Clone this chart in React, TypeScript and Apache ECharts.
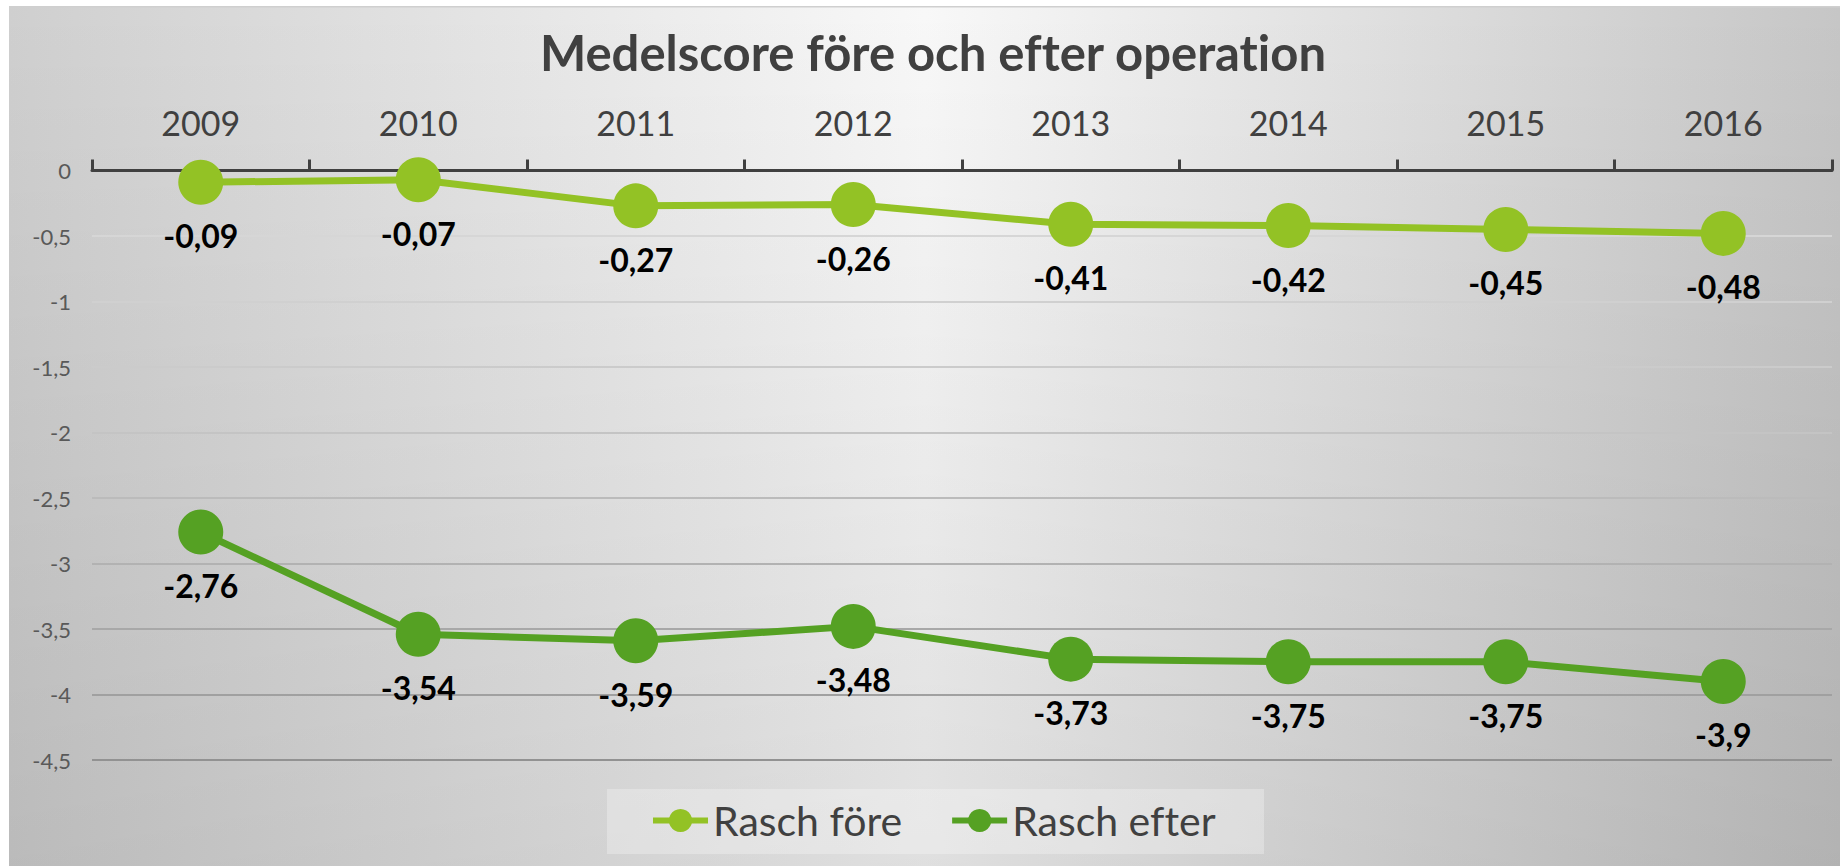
import React, { useEffect, useRef } from "react";
import * as echarts from "echarts";

const years = ["2009", "2010", "2011", "2012", "2013", "2014", "2015", "2016"];
const raschFore = [-0.09, -0.07, -0.27, -0.26, -0.41, -0.42, -0.45, -0.48];
const raschEfter = [-2.76, -3.54, -3.59, -3.48, -3.73, -3.75, -3.75, -3.9];
const titleText = "Medelscore före och efter operation";
const seriesNames = ["Rasch före", "Rasch efter"];

const FONT = "Lato, 'Open Sans', sans-serif";
const comma = (v: number) => String(v).replace(".", ",");

export default function App() {
  const ref = useRef<HTMLDivElement>(null);
  useEffect(() => {
    if (!ref.current) return;
    const chart = echarts.init(ref.current, undefined, { renderer: "svg" });
    const W = 1831;
    const H = 860;
    const labelStyle = {
      show: true,
      position: "bottom" as const,
      distance: 15,
      fontFamily: FONT,
      fontWeight: "bold" as const,
      fontSize: 32,
      color: "#000",
      formatter: (p: any) => comma(p.value),
    };
    chart.setOption({
      animation: false,
      backgroundColor: "transparent",
      graphic: [
        {
          type: "rect",
          z: -20,
          silent: true,
          shape: { x: 0, y: 0, width: W, height: H },
          style: {
            fill: new echarts.graphic.LinearGradient(0, 0, 1, 0, [
              { offset: 0, color: "#cfcfcf" },
              { offset: 0.5, color: "#f8f8f8" },
              { offset: 1, color: "#c6c6c6" },
            ]),
          },
        },
        {
          type: "rect",
          z: -19,
          silent: true,
          shape: { x: 0, y: 0, width: W, height: H },
          style: {
            fill: new echarts.graphic.LinearGradient(0, 0, 0, 1, [
              { offset: 0, color: "rgba(0,0,0,0)" },
              { offset: 1, color: "rgba(0,0,0,0.1)" },
            ]),
          },
        },
        {
          type: "rect",
          z: -18,
          silent: true,
          shape: { x: 0, y: 0, width: W, height: 1.5 },
          style: { fill: "#cfcfcf" },
        },
        {
          type: "rect",
          z: -17,
          silent: true,
          shape: { x: 598, y: 783, width: 657, height: 65 },
          style: { fill: "rgba(255,255,255,0.28)" },
        },
      ],
      title: {
        text: titleText,
        left: 924,
        top: 21,
        textAlign: "center",
        padding: 0,
        textStyle: {
          fontFamily: FONT,
          fontWeight: "bold",
          fontSize: 49,
          color: "#404040",
        },
      },
      legend: {
        data: seriesNames,
        left: 641,
        top: 794,
        padding: 0,
        itemWidth: 55,
        itemHeight: 29,
        itemGap: 47,
        lineStyle: { width: 6 },
        textStyle: {
          fontFamily: FONT,
          fontSize: 41,
          color: "#404040",
          lineHeight: 41,
        },
      },
      grid: { left: 83, right: 8, top: 164.5, bottom: 106, containLabel: false },
      xAxis: {
        type: "category",
        position: "top",
        data: years,
        boundaryGap: true,
        axisLine: { show: true, lineStyle: { color: "#404040", width: 3 } },
        axisTick: {
          show: true,
          interval: 0,
          length: 11,
          lineStyle: { color: "#404040", width: 3 },
        },
        axisLabel: {
          margin: 31,
          fontFamily: FONT,
          fontSize: 34,
          color: "#404040",
        },
        splitLine: { show: false },
      },
      yAxis: {
        type: "value",
        min: -4.5,
        max: 0,
        interval: 0.5,
        axisLine: { show: false },
        axisTick: { show: false },
        axisLabel: {
          margin: 21,
          fontFamily: FONT,
          fontSize: 22,
          color: "#595959",
          formatter: (v: number) => comma(v),
        },
        splitLine: {
          show: true,
          lineStyle: {
            width: 2,
            color: [
              "#929292",
              "#a0a0a0",
              "#a8a8a8",
              "#b2b2b2",
              "#bbbbbb",
              "#c4c4c4",
              "#cbcbcb",
              "#d0d0d0",
              "#d6d6d6",
              "#d6d6d6",
            ],
          },
        },
      },
      series: [
        {
          name: seriesNames[0],
          type: "line",
          data: raschFore,
          symbol: "circle",
          symbolSize: 45,
          lineStyle: { width: 7, color: "#93c225" },
          itemStyle: { color: "#93c225" },
          label: labelStyle,
          z: 3,
        },
        {
          name: seriesNames[1],
          type: "line",
          data: raschEfter,
          symbol: "circle",
          symbolSize: 45,
          lineStyle: { width: 7, color: "#55a123" },
          itemStyle: { color: "#55a123" },
          label: labelStyle,
          z: 3,
        },
      ],
    });
    return () => chart.dispose();
  }, []);
  return (
    <div
      style={{
        position: "fixed",
        left: 0,
        top: 0,
        width: 1840,
        height: 866,
        background: "#ffffff",
        overflow: "hidden",
      }}
    >
      <style>{`svg text { font-variant-ligatures: none !important; font-feature-settings: "liga" 0, "clig" 0 !important; }`}</style>
      <div
        ref={ref}
        style={{ position: "absolute", left: 9, top: 6, width: 1831, height: 860 }}
      />
    </div>
  );
}
